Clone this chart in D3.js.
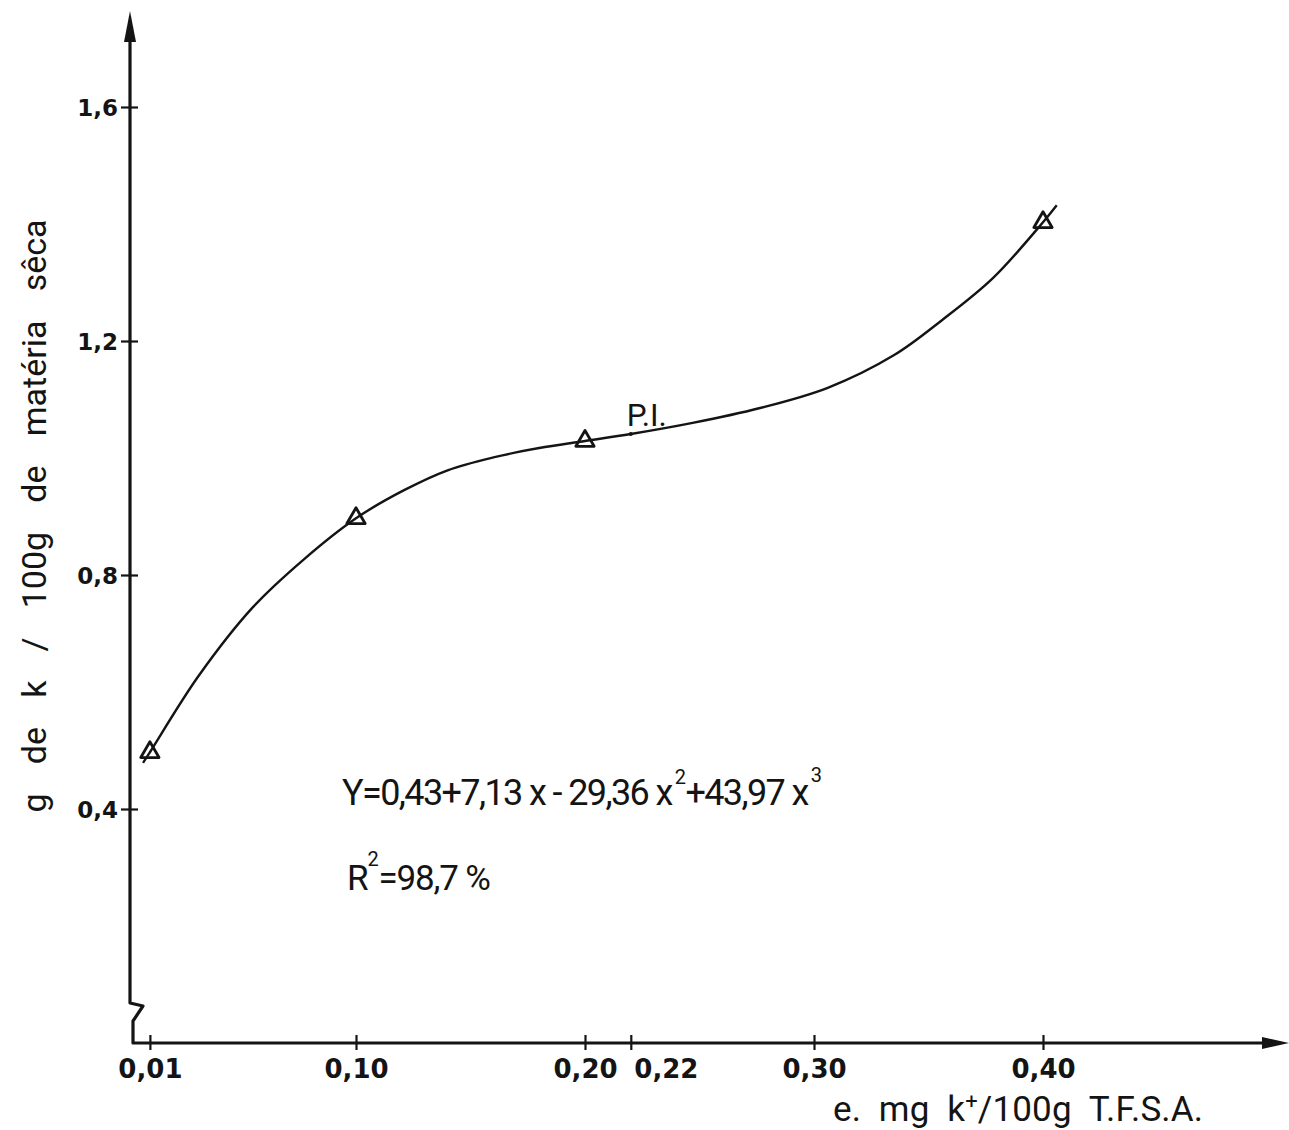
<!DOCTYPE html>
<html>
<head>
<meta charset="utf-8">
<script src="https://cdn.jsdelivr.net/npm/d3@7"></script>
<style>
  html, body { margin: 0; padding: 0; background: #ffffff; }
  svg { display: block; }
  text { font-family: Roboto, "DejaVu Sans", sans-serif; fill: #141414; }
  .tick text { font-family: "DejaVu Sans", Roboto, sans-serif; font-weight: bold; }
</style>
</head>
<body>
<svg id="chart" width="1289" height="1130"></svg>
<script>
// Axis ticks
const xTickValues = [0.01, 0.10, 0.20, 0.22, 0.30, 0.40];
const xTickLabels = ["0,01", "0,10", "0,20", "0,22", "0,30", "0,40"];
const yTickValues = [0.4, 0.8, 1.2, 1.6];
const yTickLabels = ["0,4", "0,8", "1,2", "1,6"];

// Observed K content in dry matter (triangles)
const observedDose = [0.01, 0.10, 0.20, 0.40];
const observedK = [0.497, 0.897, 1.029, 1.403];

// Fitted cubic response, traced as a smooth line
const curveDose = [0.007, 0.01, 0.031, 0.055, 0.077, 0.10, 0.121, 0.140, 0.160, 0.180, 0.20,
                   0.22, 0.247, 0.276, 0.306, 0.335, 0.356, 0.378, 0.40, 0.406];
const curveK = [0.479, 0.497, 0.626, 0.745, 0.826, 0.897, 0.945, 0.979, 1.001, 1.017, 1.029,
                1.041, 1.060, 1.085, 1.120, 1.176, 1.236, 1.307, 1.403, 1.432];

// Inflection point
const inflectionDose = 0.22;
const inflectionK = 1.041;

const equationParts = ["Y=0,43+7,13 x - 29,36 x", "2", "+43,97 x", "3"];
const r2Parts = ["R", "2", "=98,7 %"];
const yTitle = "g de k / 100g de matéria sêca";

const svg = d3.select("#chart");
const W = 1289;

const x = d3.scaleLinear().domain([0, 0.4]).range([127, 1043]);
const y = d3.scaleLinear().domain([0, 1.6]).range([1043, 107]);

const ink = "#141414";
const y0 = y(0);
const axisX = x(0) + 3;

// Axis lines with a break mark near the origin
const axisPath = d3.path();
axisPath.moveTo(axisX, 30);
axisPath.lineTo(axisX, y0 - 40);
axisPath.lineTo(axisX + 13, y0 - 37);
axisPath.lineTo(axisX + 3, y0 - 22);
axisPath.lineTo(axisX + 3, y0);
axisPath.lineTo(W - 20, y0);
svg.append("path")
  .attr("d", axisPath.toString())
  .attr("fill", "none")
  .attr("stroke", ink)
  .attr("stroke-width", 3.2)
  .attr("stroke-linejoin", "round");

// Arrow heads
svg.append("path")
  .attr("d", `M${axisX},11 L${axisX - 6},42 L${axisX + 6},42 Z`)
  .attr("fill", ink);
svg.append("path")
  .attr("d", `M${W},${y0} L${W - 27},${y0 - 6} L${W - 27},${y0 + 6} Z`)
  .attr("fill", ink);

// X ticks (crossing the axis line)
const gx = svg.append("g")
  .attr("transform", `translate(0,${y0})`)
  .call(d3.axisBottom(x)
    .tickValues(xTickValues)
    .tickFormat((d, i) => xTickLabels[i])
    .tickSize(7));
gx.select(".domain").remove();
gx.selectAll(".tick line").attr("y1", -8).attr("y2", 7)
  .attr("stroke", ink).attr("stroke-width", 2.2);
gx.selectAll(".tick text")
  .attr("y", 35).attr("dy", 0)
  .style("font-size", "26px")
  .attr("fill", ink);
// 0,22 sits right next to 0,20: set it to the right of its tick
gx.selectAll(".tick text")
  .filter(d => d === 0.22)
  .attr("text-anchor", "start")
  .attr("x", 3);

// Y ticks
const gy = svg.append("g")
  .attr("transform", `translate(${axisX},0)`)
  .call(d3.axisLeft(y)
    .tickValues(yTickValues)
    .tickFormat((d, i) => yTickLabels[i])
    .tickSize(8));
gy.select(".domain").remove();
gy.selectAll(".tick line").attr("x1", -9).attr("x2", 8)
  .attr("stroke", ink).attr("stroke-width", 2.2);
gy.selectAll(".tick text")
  .attr("x", -12).attr("dy", "0.36em")
  .style("font-size", "23px")
  .attr("fill", ink);

// Fitted curve
const pts = curveDose.map((d, i) => [d, curveK[i]]);
svg.append("path")
  .datum(pts)
  .attr("d", d3.line().x(d => x(d[0])).y(d => y(d[1])).curve(d3.curveCatmullRom.alpha(0.5)))
  .attr("fill", "none")
  .attr("stroke", ink)
  .attr("stroke-width", 2.4);

// Observed points
svg.selectAll("path.obs")
  .data(observedDose.map((d, i) => [d, observedK[i]]))
  .join("path")
  .attr("class", "obs")
  .attr("transform", d => `translate(${x(d[0])},${y(d[1])})`)
  .attr("d", d3.symbol(d3.symbolTriangle, 145))
  .attr("fill", "none")
  .attr("stroke", ink)
  .attr("stroke-width", 2.8)
  .attr("stroke-linejoin", "round");

// Inflection point marker and label
svg.append("circle")
  .attr("cx", x(inflectionDose)).attr("cy", y(inflectionK))
  .attr("r", 2).attr("fill", ink);
svg.append("text")
  .attr("x", x(inflectionDose) - 4)
  .attr("y", y(inflectionK) - 8)
  .attr("textLength", 40)
  .attr("lengthAdjust", "spacingAndGlyphs")
  .style("font-size", "32px")
  .text("P.I.");

// Regression equation
const eq = svg.append("text")
  .attr("x", 342).attr("y", 805)
  .attr("textLength", 480)
  .attr("lengthAdjust", "spacing")
  .style("font-size", "36px")
  .style("white-space", "pre");
eq.append("tspan").text(equationParts[0]);
eq.append("tspan").attr("dy", -21).attr("dx", 3).style("font-size", "20px").text(equationParts[1]);
eq.append("tspan").attr("dy", 21).attr("dx", 1).text(equationParts[2]);
eq.append("tspan").attr("dy", -23).attr("dx", 3).style("font-size", "20px").text(equationParts[3]);

const r2 = svg.append("text")
  .attr("x", 347).attr("y", 890)
  .attr("textLength", 144)
  .attr("lengthAdjust", "spacing")
  .style("font-size", "35px")
  .style("white-space", "pre");
r2.append("tspan").text(r2Parts[0]);
r2.append("tspan").attr("dy", -24).attr("dx", 0).style("font-size", "20px").text(r2Parts[1]);
r2.append("tspan").attr("dy", 24).attr("dx", 1).text(r2Parts[2]);

// Y axis title (rotated, widely spaced words)
const yt = svg.append("text")
  .attr("transform", "translate(46,516) rotate(-90)")
  .attr("text-anchor", "middle")
  .style("font-size", "34px")
  .text(yTitle);
const natural = yt.node().getComputedTextLength();
const nSpaces = yTitle.split(" ").length - 1;
yt.style("word-spacing", `${(593 - natural) / nSpaces}px`);

// X axis title
const xt = svg.append("text")
  .attr("x", 833).attr("y", 1121)
  .attr("textLength", 370)
  .attr("lengthAdjust", "spacing")
  .style("font-size", "35px")
  .style("white-space", "pre");
xt.append("tspan").text("e.  mg  k");
xt.append("tspan").attr("dy", -12).style("font-size", "22px").text("+");
xt.append("tspan").attr("dy", 12).text("/100g  T.F.S.A.");
</script>
</body>
</html>
